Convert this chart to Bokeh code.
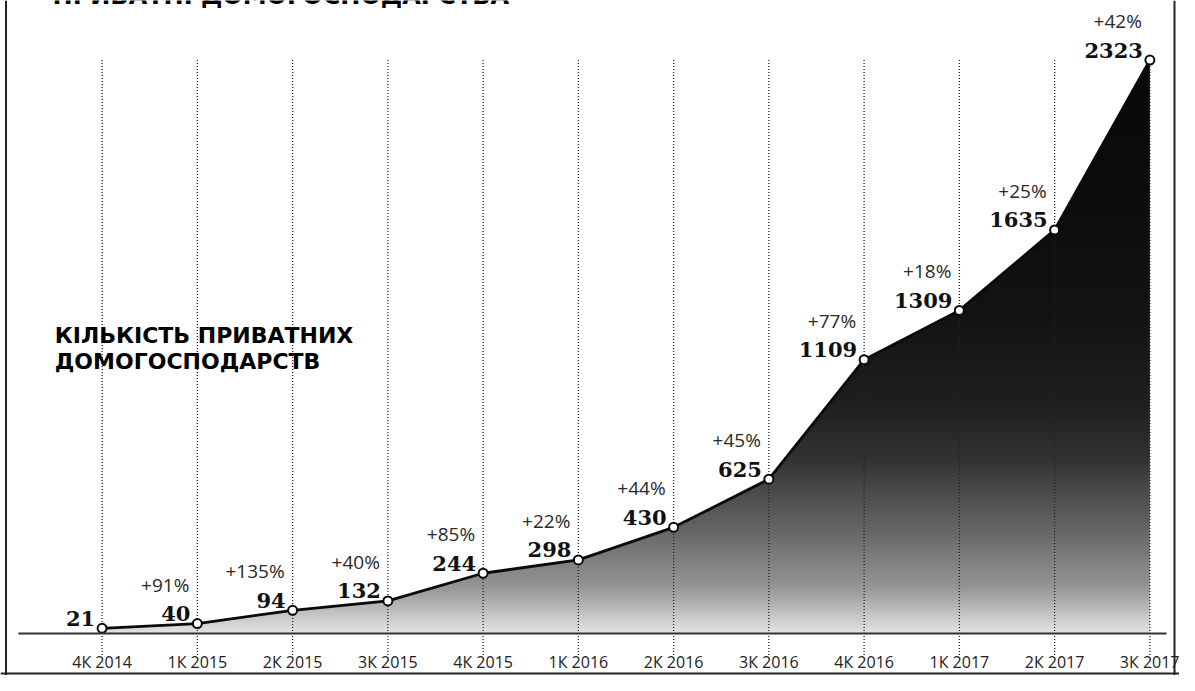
import numpy as np
from bokeh.plotting import figure
from bokeh.models import LinearAxis, FixedTicker, Span, Label
from bokeh.core.properties import value
from bokeh.embed import file_html
from bokeh.resources import INLINE

quarters = ["4К 2014", "1К 2015", "2К 2015", "3К 2015", "4К 2015", "1К 2016",
            "2К 2016", "3К 2016", "4К 2016", "1К 2017", "2К 2017", "3К 2017"]
households = [21, 40, 94, 132, 244, 298, 430, 625, 1109, 1309, 1635, 2323]
growth = ["", "+91%", "+135%", "+40%", "+85%", "+22%", "+44%", "+45%",
          "+77%", "+18%", "+25%", "+42%"]

n = len(quarters)
xs = list(range(n))
top = max(households)

p = figure(width=1179, height=675, output_backend="svg", toolbar_location=None,
           x_axis_type=None, y_axis_type=None,
           x_range=(-1.0667, 11.311), y_range=(-170.2, 2564.4),
           min_border=0, background_fill_color="white", border_fill_color="white")
p.outline_line_color = None
p.grid.visible = False

# vertical gradient fill under the curve (image + white cover above the curve)
N = 400
stops_t = [0.0, 0.03, 0.08, 0.18, 0.25, 0.30, 0.40, 0.55, 0.75, 1.0]
stops_g = [228, 200, 150, 102, 74, 52, 31, 20, 13, 9]
t = (np.arange(N) + 0.5) / N
g = np.interp(t, stops_t, stops_g).astype(np.uint8)
img = np.empty((N, 2), dtype=np.uint32)
view = img.view(dtype=np.uint8).reshape((N, 2, 4))
for c in range(3):
    view[:, :, c] = g[:, None]
view[:, :, 3] = 255
p.image_rgba(image=[img], x=0, y=0, dw=n - 1, dh=top)
p.varea(x=xs, y1=households, y2=top + 5, fill_color="white")

# dotted guides
p.segment(x0=xs, y0=[top] * n, x1=xs, y1=[-87] * n, line_dash="1 2",
          line_color="#222222", line_width=1.3)

p.line(xs, households, line_color="#0a0a0a", line_width=2.8)
p.scatter(xs, households, size=9, fill_color="white", line_color="#0a0a0a",
          line_width=2)

p.text(x=xs, y=households, text=[str(v) for v in households],
       text_font=value("DejaVu Serif"), text_font_style="bold",
       text_font_size="21px", text_color="#111111", text_align="right",
       text_baseline="alphabetic", x_offset=-7, y_offset=-10)
p.text(x=xs, y=households, text=growth,
       text_font=value("Open Sans"), text_font_size="19px",
       text_color="#2a2a2a", text_align="right",
       text_baseline="alphabetic", x_offset=-8, y_offset=-39)

ax = LinearAxis(fixed_location=0, ticker=FixedTicker(ticks=xs),
                major_label_overrides={i: q for i, q in enumerate(quarters)},
                bounds=(-0.88, 11.177))
ax.major_tick_out = 0
ax.major_tick_in = 0
ax.minor_tick_out = 0
ax.minor_tick_in = 0
ax.axis_line_color = "#333333"
ax.axis_line_width = 2
ax.major_label_standoff = 18
ax.major_label_text_font = "Open Sans"
ax.major_label_text_font_size = "16px"
ax.major_label_text_color = "#222222"
p.add_layout(ax, "below")

p.add_layout(Label(x=-0.52, y=2584, text="ПРИВАТНІ ДОМОГОСПОДАРСТВА",
                   text_font="DejaVu Sans", text_font_style="bold",
                   text_font_size="24px", text_color="#000000",
                   text_baseline="alphabetic"))
p.add_layout(Label(x=-0.497, y=1207, text="КІЛЬКІСТЬ ПРИВАТНИХ",
                   text_font="DejaVu Sans", text_font_style="bold",
                   text_font_size="22px", text_color="#000000",
                   text_baseline="alphabetic"))
p.add_layout(Label(x=-0.497, y=1100, text="ДОМОГОСПОДАРСТВ",
                   text_font="DejaVu Sans", text_font_style="bold",
                   text_font_size="22px", text_color="#000000",
                   text_baseline="alphabetic"))

# frame lines
p.add_layout(Span(location=5.5, location_units="screen", dimension="height",
                  line_color="#222222", line_width=2))
p.add_layout(Span(location=1174, location_units="screen", dimension="height",
                  line_color="#222222", line_width=2))
p.add_layout(Span(location=-162.4, dimension="width",
                  line_color="#222222", line_width=2))

open("out.html", "w").write(file_html(p, INLINE))
